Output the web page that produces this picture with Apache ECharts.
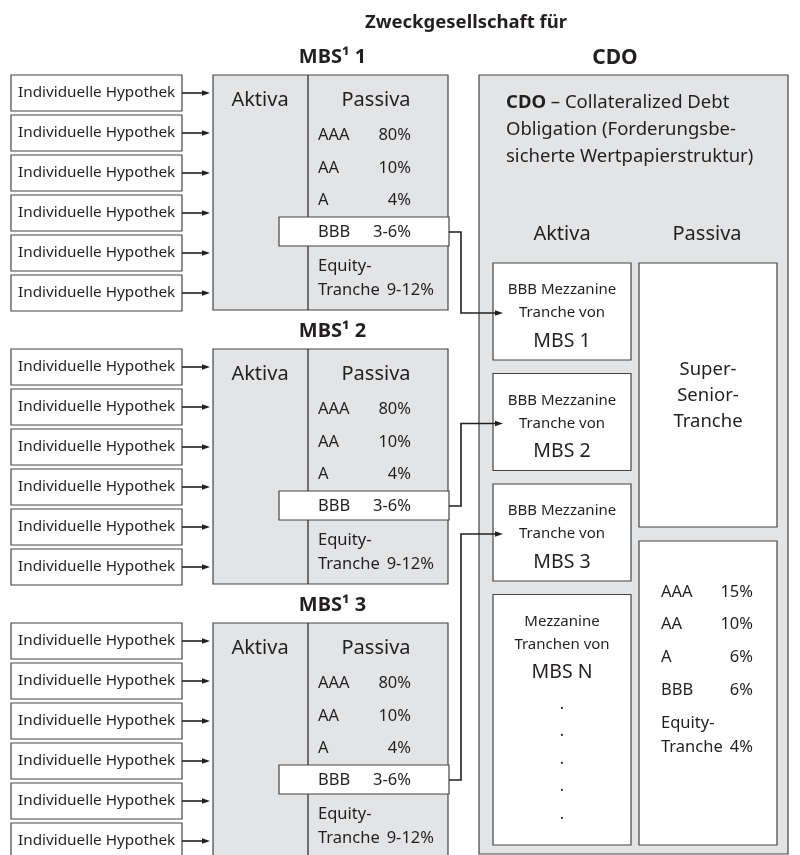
<!DOCTYPE html>
<html>
<head>
<meta charset="utf-8">
<script src="https://cdn.jsdelivr.net/npm/echarts/dist/echarts.min.js"></script>
<style>html,body{margin:0;background:#fff}#chart{width:800px;height:855px}</style>
</head>
<body>
<div id="chart"></div>
<script>
// Inhalte
const hypothekLabel = 'Individuelle Hypothek';
const hypothekenProMbs = 6;
const mbsNummern = ['1', '2', '3'];
const mbsRatings = ['AAA', 'AA', 'A', 'BBB'];
const mbsAnteile = ['80%', '10%', '4%', '3-6%'];
const mbsEquity = ['Equity-', 'Tranche', '9-12%'];
const cdoTitel = ['{b|CDO} – Collateralized Debt', 'Obligation (Forderungsbe-', 'sicherte Wertpapierstruktur)'];
const cdoAktivaKopf = [
  ['BBB Mezzanine', 'Tranche von'],
  ['BBB Mezzanine', 'Tranche von'],
  ['BBB Mezzanine', 'Tranche von'],
  ['Mezzanine', 'Tranchen von'],
];
const cdoAktivaName = ['MBS 1', 'MBS 2', 'MBS 3', 'MBS N'];
const cdoSenior = ['Super-', 'Senior-', 'Tranche'];
const cdoRatings = ['AAA', 'AA', 'A', 'BBB'];
const cdoAnteile = ['15%', '10%', '6%', '6%'];
const cdoEquity = ['Equity-', 'Tranche', '4%'];

// Layout
const FONT = '"Noto Sans", sans-serif';
const INK = '#231f20';
const GRAU = '#e3e4e5';
const RAND = '#444';

const groupTop = 75, groupStep = 274;
const hypX = 11, hypW = 171, hypH = 36, hypStep = 40;
const mbsX = 213, mbsW = 235, mbsH = 235, mbsDivX = 308;
const mbsRowY = [60, 93, 125, 157];
const cdoX = 479, cdoW = 309;
const cdoLeftX = 493, cdoRightX = 639, cdoBoxW = 138;
const cdoBoxTop = 263, cdoBoxStep = 110.5, cdoBoxH = 97, cdoBottom = 845;

function rect(api, x, y, w, h, fill, stroke) {
  const a = api.coord([x, y]), b = api.coord([x + w, y + h]);
  return {
    type: 'rect',
    shape: { x: a[0], y: a[1], width: b[0] - a[0], height: b[1] - a[1] },
    style: { fill: fill, stroke: stroke || RAND, lineWidth: 1.2 },
  };
}

function label(api, x, y, text, size, align, weight, rich) {
  const p = api.coord([x, y]);
  return {
    type: 'text', x: p[0], y: p[1],
    style: {
      text: text, fontFamily: FONT, fontSize: size, fontWeight: weight || 'normal',
      fill: INK, align: align || 'left', verticalAlign: 'middle', rich: rich,
    },
  };
}

function line(api, pts, width) {
  return { type: 'polyline', shape: { points: pts.map((p) => api.coord(p)) }, style: { stroke: INK, lineWidth: width || 1.2, fill: null } };
}

// Pfeil nach rechts, Spitze am letzten Punkt
function arrow(api, pts) {
  const tip = api.coord(pts[pts.length - 1]);
  const body = pts.slice(0, -1).concat([[pts[pts.length - 1][0] - 5, pts[pts.length - 1][1]]]);
  return [
    line(api, body, 1.6),
    { type: 'polygon', shape: { points: [tip, [tip[0] - 8, tip[1] - 2.8], [tip[0] - 8, tip[1] + 2.8]] }, style: { fill: INK } },
  ];
}

function renderHypothek(params, api) {
  const g = api.value(0), i = api.value(1);
  const top = groupTop + g * groupStep + i * hypStep;
  const cy = top + hypH / 2;
  return {
    type: 'group',
    children: [
      rect(api, hypX, top, hypW, hypH, '#fff'),
      label(api, hypX + 7, cy, hypothekLabel, 15.3),
    ].concat(arrow(api, [[hypX + hypW, cy], [210, cy]])),
  };
}

function renderMbs(params, api) {
  const g = api.value(0);
  const top = groupTop + g * groupStep;
  const target = cdoBoxTop + g * cdoBoxStep + 50;
  const kids = [
    label(api, mbsX + mbsW / 2 + 2, top - 18, 'MBS¹ ' + mbsNummern[g], 20, 'center', 'bold'),
    rect(api, mbsX, top, mbsW, mbsH, GRAU),
    line(api, [[mbsDivX, top], [mbsDivX, top + mbsH]]),
    label(api, 260, top + 25, 'Aktiva', 20, 'center'),
    label(api, 376, top + 25, 'Passiva', 20, 'center'),
    rect(api, 279, top + 142, 170, 29, '#fff'),
  ];
  mbsRatings.forEach((r, k) => {
    kids.push(label(api, 318, top + mbsRowY[k], r, 16.5));
    kids.push(label(api, 411, top + mbsRowY[k], mbsAnteile[k], 16.5, 'right'));
  });
  kids.push(label(api, 318, top + 191, mbsEquity[0], 16.5));
  kids.push(label(api, 318, top + 215, mbsEquity[1], 16.5));
  kids.push(label(api, 434, top + 215, mbsEquity[2], 16.5, 'right'));
  return {
    type: 'group',
    children: kids.concat(arrow(api, [[449, top + 157], [461, top + 157], [461, target], [503, target]])),
  };
}

function renderCdo(params, api) {
  const kids = [
    label(api, 466, 23, 'Zweckgesellschaft für', 18.5, 'center', 'bold'),
    label(api, 615, 58, 'CDO', 21, 'center', 'bold'),
    rect(api, cdoX, 75, cdoW, 779, GRAU),
    label(api, 562, 234, 'Aktiva', 20, 'center'),
    label(api, 707, 234, 'Passiva', 20, 'center'),
  ];
  cdoTitel.forEach((t, k) => {
    kids.push(label(api, 506, 103 + k * 27, t, 18.5, 'left', 'normal', { b: { fontFamily: FONT, fontSize: 18.5, fontWeight: 'bold', fill: INK } }));
  });
  const cx = cdoLeftX + cdoBoxW / 2;
  cdoAktivaName.forEach((n, k) => {
    const top = cdoBoxTop + k * cdoBoxStep;
    const h = k < 3 ? cdoBoxH : cdoBottom - top;
    kids.push(rect(api, cdoLeftX, top, cdoBoxW, h, '#fff'));
    kids.push(label(api, cx, top + 27, cdoAktivaKopf[k][0], 15, 'center'));
    kids.push(label(api, cx, top + 50, cdoAktivaKopf[k][1], 15, 'center'));
    kids.push(label(api, cx, top + 78, n, 19.5, 'center'));
  });
  // Auslassungspunkte unter MBS N
  for (let d = 0; d < 5; d++) {
    kids.push(label(api, cx, 704 + d * 27.5, '.', 16, 'center'));
  }
  const rx = cdoRightX + cdoBoxW / 2;
  kids.push(rect(api, cdoRightX, cdoBoxTop, cdoBoxW, 264, '#fff'));
  cdoSenior.forEach((t, k) => kids.push(label(api, rx, 370 + k * 26, t, 18.5, 'center')));
  kids.push(rect(api, cdoRightX, 541, cdoBoxW, cdoBottom - 541, '#fff'));
  cdoRatings.forEach((r, k) => {
    kids.push(label(api, 661, 592 + k * 32.7, r, 16.5));
    kids.push(label(api, 753, 592 + k * 32.7, cdoAnteile[k], 16.5, 'right'));
  });
  kids.push(label(api, 661, 723, cdoEquity[0], 16.5));
  kids.push(label(api, 661, 747, cdoEquity[1], 16.5));
  kids.push(label(api, 753, 747, cdoEquity[2], 16.5, 'right'));
  return { type: 'group', children: kids };
}

const hypData = [];
mbsNummern.forEach((n, g) => {
  for (let i = 0; i < hypothekenProMbs; i++) hypData.push([g, i]);
});

const chart = echarts.init(document.getElementById('chart'));
chart.setOption({
  animation: false,
  grid: { left: 0, right: 0, top: 0, bottom: 0 },
  xAxis: { type: 'value', min: 0, max: 800, show: false },
  yAxis: { type: 'value', min: 0, max: 855, inverse: true, show: false },
  series: [
    { type: 'custom', name: 'CDO', clip: false, silent: true, data: [[0, 0]], renderItem: renderCdo },
    { type: 'custom', name: 'MBS', clip: false, silent: true, data: mbsNummern.map((n, g) => [g, 0]), renderItem: renderMbs },
    { type: 'custom', name: 'Hypotheken', clip: false, silent: true, data: hypData, renderItem: renderHypothek },
  ],
});
</script>
</body>
</html>
